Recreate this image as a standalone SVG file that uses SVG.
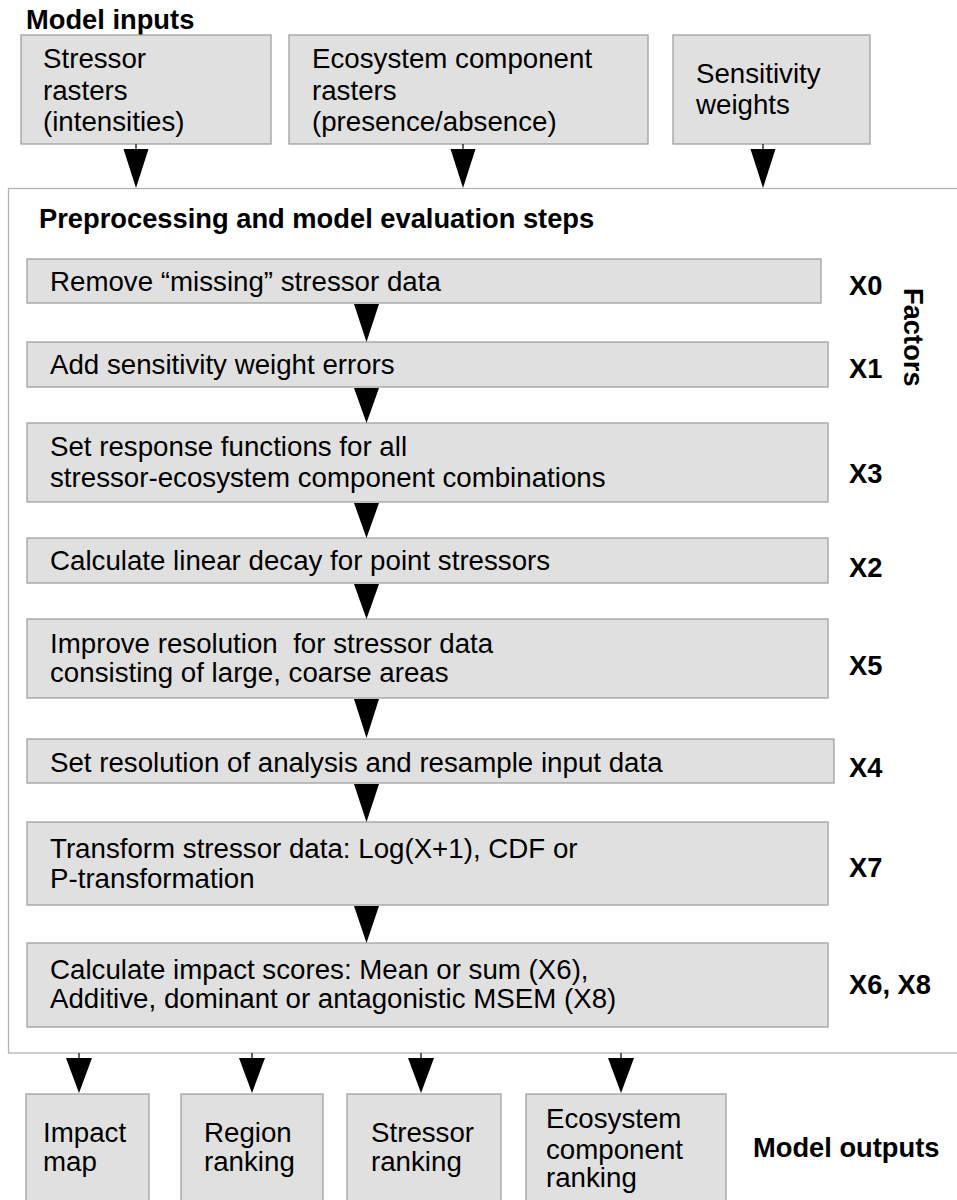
<svg xmlns="http://www.w3.org/2000/svg" width="957" height="1200" viewBox="0 0 957 1200">
<style>
text{font-family:"Liberation Sans",Arial,sans-serif;font-size:27.7px;fill:#000}
.b{font-weight:bold;font-size:27.3px}
.box{fill:#e0e0e0;stroke:#a0a0a0;stroke-width:1.3}
.cont{fill:#fff;stroke:#b4b4b4;stroke-width:1.3}
.ln{stroke:#000;stroke-width:1.2;fill:none}
.hd{fill:#000;stroke:none}
</style>
<rect width="957" height="1200" fill="#fff"/>
<text class="b" x="26" y="29">Model inputs</text>
<g id="container"><rect class="cont" x="8.5" y="188.5" width="960" height="864.5"/>
<text class="b" x="39" y="228">Preprocessing and model evaluation steps</text></g>
<g id="in1"><rect class="box" x="21" y="35" width="250" height="109"/><text x="43" y="68">Stressor</text><text x="43" y="100">rasters</text><text x="43" y="131">(intensities)</text></g>
<g id="in2"><rect class="box" x="289" y="35" width="359" height="109"/><text x="312" y="68">Ecosystem component</text><text x="312" y="100">rasters</text><text x="312" y="131">(presence/absence)</text></g>
<g id="in3"><rect class="box" x="673" y="35" width="197" height="109"/><text x="696" y="83">Sensitivity</text><text x="696" y="114">weights</text></g>
<g id="s1"><rect class="box" x="27" y="259" width="794" height="44"/><text x="50" y="291">Remove “missing” stressor data</text></g>
<g id="s2"><rect class="box" x="27" y="342" width="801" height="45"/><text x="50" y="374">Add sensitivity weight errors</text></g>
<g id="s3"><rect class="box" x="27" y="423" width="801" height="79"/><text x="50" y="456">Set response functions for all</text><text x="50" y="487">stressor-ecosystem component combinations</text></g>
<g id="s4"><rect class="box" x="27" y="538" width="801" height="45"/><text x="50" y="570">Calculate linear decay for point stressors</text></g>
<g id="s5"><rect class="box" x="27" y="619" width="801" height="79"/><text x="50" y="653" xml:space="preserve">Improve resolution  for stressor data</text><text x="50" y="682">consisting of large, coarse areas</text></g>
<g id="s6"><rect class="box" x="27" y="739" width="807" height="44"/><text x="50" y="772">Set resolution of analysis and resample input data</text></g>
<g id="s7"><rect class="box" x="27" y="822" width="801" height="83"/><text x="50" y="858">Transform stressor data: Log(X+1), CDF or</text><text x="50" y="888">P-transformation</text></g>
<g id="s8"><rect class="box" x="27" y="943" width="801" height="84"/><text x="50" y="979">Calculate impact scores: Mean or sum (X6),</text><text x="50" y="1008">Additive, dominant or antagonistic MSEM (X8)</text></g>
<g id="factors">
<text class="b" x="849" y="295">X0</text>
<text class="b" x="849" y="378">X1</text>
<text class="b" x="849" y="483">X3</text>
<text class="b" x="849" y="577">X2</text>
<text class="b" x="849" y="675">X5</text>
<text class="b" x="849" y="777">X4</text>
<text class="b" x="849" y="877">X7</text>
<text class="b" x="849" y="994">X6, X8</text>
<text class="b" transform="translate(904,288) rotate(90)">Factors</text>
</g>
<g id="o1"><rect class="box" x="26" y="1094" width="123" height="120"/><text x="43" y="1142">Impact</text><text x="43" y="1171">map</text></g>
<g id="o2"><rect class="box" x="181" y="1094" width="142" height="120"/><text x="204" y="1142">Region</text><text x="204" y="1171">ranking</text></g>
<g id="o3"><rect class="box" x="347" y="1094" width="154" height="120"/><text x="371" y="1142">Stressor</text><text x="371" y="1171">ranking</text></g>
<g id="o4"><rect class="box" x="526" y="1094" width="200" height="120"/><text x="546" y="1128">Ecosystem</text><text x="546" y="1159">component</text><text x="546" y="1187">ranking</text></g>
<text class="b" x="753" y="1157">Model outputs</text>
<g id="connectors">
<path class="ln" d="M136,144V150M463,144V150M763,144V150M79,1053V1059M252,1053V1059M421,1053V1059M621,1053V1059"/>
<polygon class="hd" points="123.5,149 148.5,149 136,188"/>
<polygon class="hd" points="450.5,149 475.5,149 463,188"/>
<polygon class="hd" points="750.5,149 775.5,149 763,188"/>
<polygon class="hd" points="354,304 379,304 366.5,342"/>
<polygon class="hd" points="354,388 379,388 366.5,423"/>
<polygon class="hd" points="354,503 379,503 366.5,538"/>
<polygon class="hd" points="354,584 379,584 366.5,619"/>
<polygon class="hd" points="354,699 379,699 366.5,738"/>
<polygon class="hd" points="354,784 379,784 366.5,822"/>
<polygon class="hd" points="354,906 379,906 366.5,943"/>
<polygon class="hd" points="66,1058 92,1058 79,1093"/>
<polygon class="hd" points="239,1058 265,1058 252,1093"/>
<polygon class="hd" points="408,1058 434,1058 421,1093"/>
<polygon class="hd" points="608,1058 634,1058 621,1093"/>
</g>
</svg>
